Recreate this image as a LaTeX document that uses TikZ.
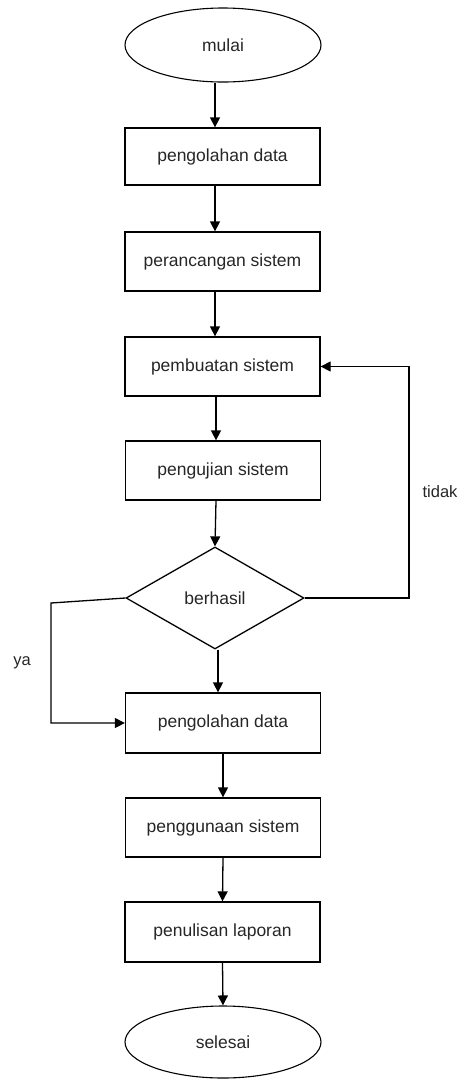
\documentclass[tikz,border=0pt]{standalone}
\usepackage{fontspec}
\setmainfont{Liberation Sans}
\usetikzlibrary{shapes.geometric,arrows.meta,calc}
\begin{document}
\begin{tikzpicture}[x=1pt,y=-1pt,
  every node/.style={font=\fontsize{17.5}{21}\selectfont, text=black!85},
  stepbox/.style={draw, line width=1.3pt, minimum width=195pt, inner sep=0pt, anchor=center},
  term/.style={draw, ellipse, line width=1.1pt, minimum width=196pt, inner sep=0pt},
  decide/.style={draw, diamond, line width=1.3pt, minimum width=178pt, minimum height=102pt, inner sep=0pt, aspect=1.75},
  arr/.style={draw, line width=1.3pt, -{Triangle[length=10pt,width=10pt]}},
  lbl/.style={font=\fontsize{16.5}{20}\selectfont}]
\useasboundingbox (0,0) rectangle (459,1080);
\node[term, minimum height=74pt] (mulai) at (223,45) {mulai};
\node[stepbox, minimum height=57pt] (b1) at (222.5,156.5) {pengolahan data};
\node[stepbox, minimum height=59pt] (b2) at (222.5,261.5) {perancangan sistem};
\node[stepbox, minimum height=59pt] (b3) at (222.5,366.5) {pembuatan sistem};
\node[stepbox, minimum height=59pt] (b4) at (223,470.5) {pengujian sistem};
\node[decide] (dia) at (215,598) {berhasil};
\node[stepbox, minimum height=60pt] (b5) at (223,723) {pengolahan data};
\node[stepbox, minimum height=59pt] (b6) at (223,827.5) {penggunaan sistem};
\node[stepbox, minimum height=60pt] (b7) at (222.5,932) {penulisan laporan};
\node[term, minimum height=72pt] (sel) at (223,1042) {selesai};
\node[lbl] (tidak) at (440,492) {tidak};
\node[lbl] (ya) at (22,663) {ya};
\coordinate (ax) at (215,0);
\coordinate (bx) at (216,0);
\coordinate (cx) at (218,0);
\coordinate (tr) at (409,598);
\coordinate (yl) at (51,603);
\draw[arr] (mulai.south -| ax) -- (b1.north -| ax);
\draw[arr] (b1.south -| ax) -- (b2.north -| ax);
\draw[arr] (b2.south -| ax) -- (b3.north -| ax);
\draw[arr] (b3.south -| bx) -- (b4.north -| bx);
\draw[arr] (b4.south -| bx) -- (dia.north);
\draw[arr] (dia.south -| cx) -- (b5.north -| cx);
\draw[arr] (b5.south) -- (b6.north);
\draw[arr] (b6.south) -- (b7.north);
\draw[arr] (b7.south) -- (sel.north);
\draw[arr] (dia.east) -- (tr) |- (b3.east);
\draw[arr] (dia.west) -- (yl) |- (b5.west);
\end{tikzpicture}
\end{document}
